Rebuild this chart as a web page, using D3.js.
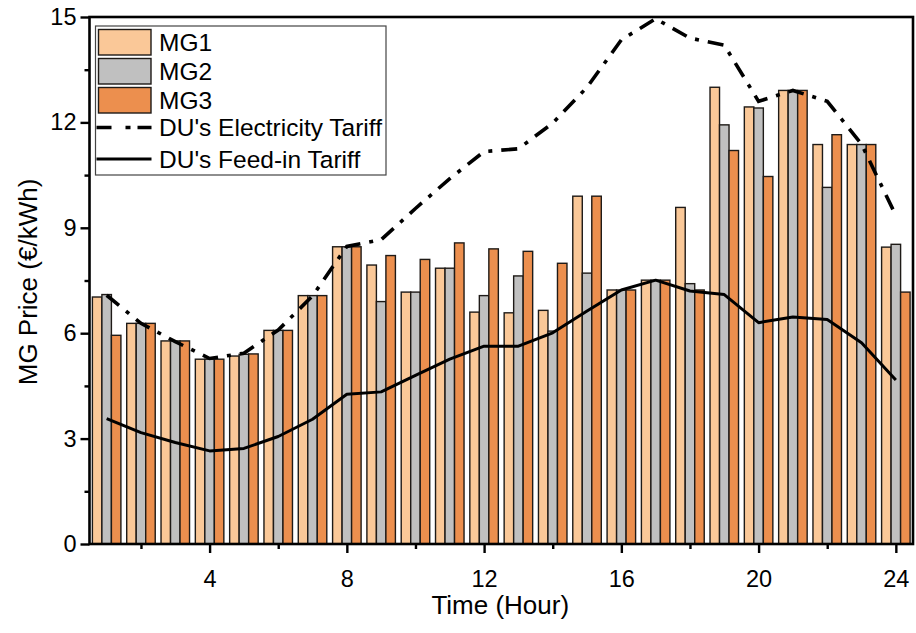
<!DOCTYPE html>
<html>
<head>
<meta charset="utf-8">
<script src="https://cdn.jsdelivr.net/npm/d3@7/dist/d3.min.js"></script>
<style>
  html, body { margin: 0; padding: 0; background: #fff; }
  svg { display: block; font-family: "Liberation Sans", Arial, sans-serif; }
</style>
</head>
<body>
<svg id="chart" width="916" height="633"></svg>
<script>
// Hourly prices (€/kWh)
const hours = [1, 2, 3, 4, 5, 6, 7, 8, 9, 10, 11, 12, 13, 14, 15, 16, 17, 18, 19, 20, 21, 22, 23, 24];
const mg1 = [7.03, 6.28, 5.78, 5.26, 5.35, 6.08, 7.07, 8.46, 7.94, 7.17, 7.85, 6.60, 6.58, 6.65, 9.90, 7.23, 7.51, 9.58, 13.00, 12.44, 12.91, 11.37, 11.37, 8.45];
const mg2 = [7.10, 6.28, 5.78, 5.26, 5.40, 6.08, 7.07, 8.46, 6.90, 7.17, 7.85, 7.07, 7.63, 6.06, 7.71, 7.23, 7.51, 7.41, 11.93, 12.41, 12.91, 10.15, 11.37, 8.53];
const mg3 = [5.94, 6.28, 5.78, 5.26, 5.41, 6.08, 7.07, 8.46, 8.21, 8.10, 8.57, 8.40, 8.33, 7.99, 9.90, 7.23, 7.51, 7.23, 11.20, 10.46, 12.91, 11.65, 11.37, 7.17];
const electricityTariff = [7.08, 6.28, 5.76, 5.28, 5.43, 6.09, 7.06, 8.47, 8.66, 9.55, 10.40, 11.17, 11.25, 11.98, 13.00, 14.35, 14.95, 14.40, 14.20, 12.60, 12.91, 12.60, 11.38, 9.35];
const feedInTariff = [3.57, 3.17, 2.89, 2.65, 2.72, 3.06, 3.55, 4.26, 4.33, 4.80, 5.26, 5.63, 5.63, 6.01, 6.63, 7.23, 7.51, 7.20, 7.10, 6.30, 6.46, 6.39, 5.73, 4.67];

const seriesNames = ["MG1", "MG2", "MG3"];
const seriesColors = ["#FAC898", "#C0C0C0", "#EC8F4E"];
const xMajorTicks = [4, 8, 12, 16, 20, 24];
const xMinorTicks = [2, 6, 10, 14, 18, 22];
const yMajorTicks = [0, 3, 6, 9, 12, 15];
const yMinorTicks = [1.5, 4.5, 7.5, 10.5, 13.5];

const svg = d3.select("#chart");
const plotLeft = 89.5, plotRight = 913, plotTop = 17, plotBottom = 544;

const x = d3.scaleLinear().domain([0.5, 24.5]).range([plotLeft, plotRight]);
const y = d3.scaleLinear().domain([0, 15]).range([plotBottom, plotTop]);

const barW = (x(1) - x(0)) * 0.277;
const series = [mg1, mg2, mg3];

// grouped bars
series.forEach((vals, si) => {
  svg.append("g")
    .selectAll("rect")
    .data(hours.map((h, i) => ({ h, v: vals[i] })))
    .join("rect")
    .attr("x", d => x(d.h) + (si - 1.5) * barW)
    .attr("y", d => y(d.v))
    .attr("width", barW)
    .attr("height", d => y(0) - y(d.v))
    .attr("fill", seriesColors[si])
    .attr("stroke", "#1e1a17")
    .attr("stroke-width", 1.4);
});

// tariff lines
const line = d3.line().x(d => x(d.h)).y(d => y(d.v));
svg.append("path")
  .datum(hours.map((h, i) => ({ h, v: electricityTariff[i] })))
  .attr("d", line)
  .attr("fill", "none")
  .attr("stroke", "#000")
  .attr("stroke-width", 3.6)
  .attr("stroke-dasharray", "16,9,4,9");

svg.append("path")
  .datum(hours.map((h, i) => ({ h, v: feedInTariff[i] })))
  .attr("d", line)
  .attr("fill", "none")
  .attr("stroke", "#000")
  .attr("stroke-width", 3)
  .attr("stroke-linejoin", "round");

// axes
const xAxis = svg.append("g").attr("transform", `translate(0,${plotBottom})`);
xAxis.call(d3.axisBottom(x).tickValues(xMajorTicks).tickSize(9).tickPadding(17).tickFormat(d3.format("d")));
const xMinor = svg.append("g").attr("transform", `translate(0,${plotBottom})`);
xMinor.call(d3.axisBottom(x).tickValues(xMinorTicks).tickSize(5).tickFormat(""));

const yAxis = svg.append("g").attr("transform", `translate(${plotLeft},0)`);
yAxis.call(d3.axisLeft(y).tickValues(yMajorTicks).tickSize(9).tickPadding(4).tickFormat(d3.format("d")));
const yMinor = svg.append("g").attr("transform", `translate(${plotLeft},0)`);
yMinor.call(d3.axisLeft(y).tickValues(yMinorTicks).tickSize(5).tickFormat(""));

svg.selectAll(".domain").remove();
svg.selectAll(".tick line").attr("stroke", "#000").attr("stroke-width", 2.4);
svg.selectAll(".tick text").attr("font-size", 23.5).attr("fill", "#000")
  .attr("font-family", "'Liberation Sans', Arial, sans-serif");

// frame
svg.append("rect")
  .attr("x", plotLeft).attr("y", plotTop)
  .attr("width", plotRight - plotLeft).attr("height", plotBottom - plotTop)
  .attr("fill", "none").attr("stroke", "#000").attr("stroke-width", 2.6);

// axis titles
svg.append("text")
  .attr("x", (plotLeft + plotRight) / 2 - 1).attr("y", 614)
  .attr("text-anchor", "middle").attr("font-size", 26)
  .text("Time (Hour)");

svg.append("text")
  .attr("transform", "translate(37,282) rotate(-90)")
  .attr("text-anchor", "middle").attr("font-size", 26)
  .text("MG Price (€/kWh)");

// legend
const lg = svg.append("g");
lg.append("rect")
  .attr("x", 95.5).attr("y", 26).attr("width", 290.5).attr("height", 149)
  .attr("fill", "#fff").attr("stroke", "#444").attr("stroke-width", 1.2);

seriesNames.forEach((name, i) => {
  const yy = 29.5 + i * 29;
  lg.append("rect")
    .attr("x", 98.5).attr("y", yy).attr("width", 52.5).attr("height", 25.5)
    .attr("fill", seriesColors[i]).attr("stroke", "#1e1a17").attr("stroke-width", 1.4);
  lg.append("text")
    .attr("x", 159).attr("y", yy + 21.5).attr("font-size", 24.5)
    .text(name);
});

const lineItems = [
  { name: "DU's Electricity Tariff", dash: "15,14,5,7", w: 3.6, yy: 127.5 },
  { name: "DU's Feed-in Tariff", dash: null, w: 3, yy: 159 }
];
lineItems.forEach(it => {
  const p = lg.append("line")
    .attr("x1", 96.5).attr("x2", 151.5).attr("y1", it.yy).attr("y2", it.yy)
    .attr("stroke", "#000").attr("stroke-width", it.w);
  if (it.dash) p.attr("stroke-dasharray", it.dash);
  lg.append("text")
    .attr("x", 159).attr("y", it.yy + 8.5).attr("font-size", 24.5)
    .text(it.name);
});
</script>
</body>
</html>
